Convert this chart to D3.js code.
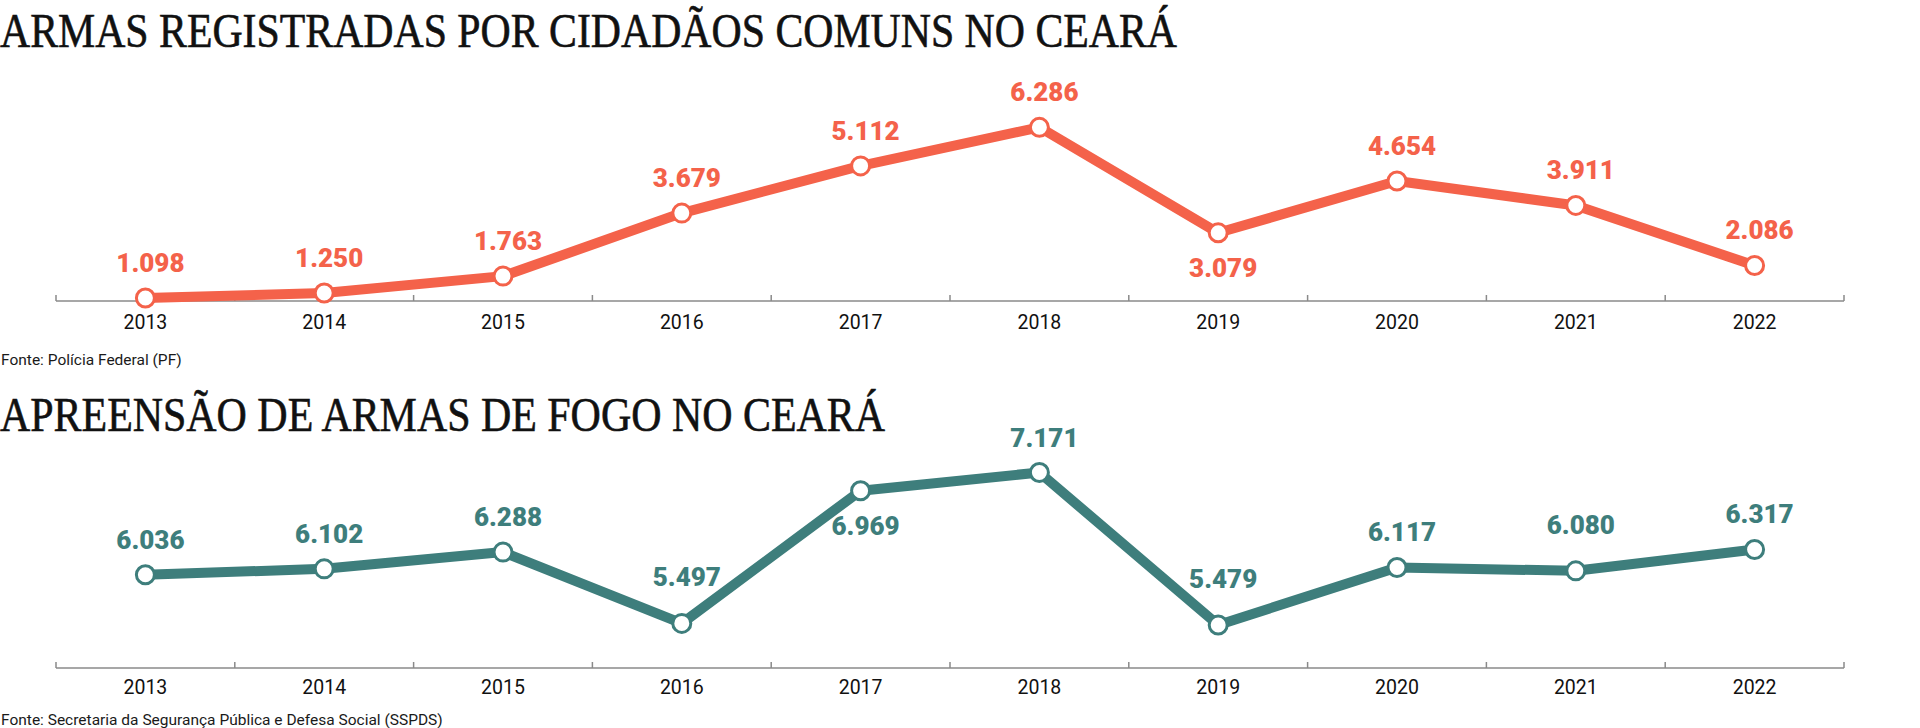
<!DOCTYPE html>
<html>
<head>
<meta charset="utf-8">
<script src="https://cdn.jsdelivr.net/npm/d3@7"></script>
<style>
  html, body { margin: 0; padding: 0; background: #ffffff; }
  svg { display: block; }
</style>
</head>
<body>
<svg id="chart" width="1920" height="728"></svg>
<script>
// ---- data ----
const years = ['2013', '2014', '2015', '2016', '2017', '2018', '2019', '2020', '2021', '2022'];
const registeredWeapons = [1098, 1250, 1763, 3679, 5112, 6286, 3079, 4654, 3911, 2086];
const seizedWeapons = [6036, 6102, 6288, 5497, 6969, 7171, 5479, 6117, 6080, 6317];
const registeredLabelSide = ['above', 'above', 'above', 'above', 'above', 'above', 'below', 'above', 'above', 'above'];
const seizedLabelSide = ['above', 'above', 'above', 'above', 'below', 'above', 'above', 'above', 'above', 'above'];
const title1 = 'ARMAS REGISTRADAS POR CIDADÃOS COMUNS NO CEARÁ';
const title2 = 'APREENSÃO DE ARMAS DE FOGO NO CEARÁ';
const source1 = 'Fonte: Polícia Federal (PF)';
const source2 = 'Fonte: Secretaria da Segurança Pública e Defesa Social (SSPDS)';

// ---- setup ----
const svg = d3.select('#chart');
const ptBR = d3.formatLocale({ decimal: ',', thousands: '.', grouping: [3], currency: ['R$', ''] });
const fmt = ptBR.format(',d');

const x = d3.scaleBand().domain(years).range([56, 1844]).paddingInner(0).paddingOuter(0);

function drawPanel(cfg) {
  const g = svg.append('g');

  // title
  g.append('text')
    .attr('x', 0).attr('y', cfg.titleY)
    .attr('font-family', '"Liberation Serif", "DejaVu Serif", serif')
    .attr('font-size', 48)
    .attr('fill', '#111')
    .attr('stroke', '#111')
    .attr('stroke-width', 0.6)
    .attr('textLength', cfg.titleWidth)
    .attr('lengthAdjust', 'spacingAndGlyphs')
    .text(cfg.title);

  const y = d3.scaleLinear().domain(d3.extent(cfg.values)).range(cfg.yRange);

  // axis baseline + boundary ticks
  const axisG = g.append('g').attr('transform', `translate(0,${cfg.axisY})`);
  axisG.append('line')
    .attr('x1', x.range()[0]).attr('x2', x.range()[1])
    .attr('y1', 0).attr('y2', 0)
    .attr('stroke', '#8a8a8a').attr('stroke-width', 1.5);
  const bounds = years.map(d => x(d)).concat([x(years[years.length - 1]) + x.bandwidth()]);
  axisG.selectAll('line.tick').data(bounds).join('line')
    .attr('class', 'tick')
    .attr('x1', d => d).attr('x2', d => d)
    .attr('y1', 0).attr('y2', -6)
    .attr('stroke', '#8a8a8a').attr('stroke-width', 1.5);

  // year labels through d3 axis
  const labelAxis = g.append('g')
    .attr('transform', `translate(0,${cfg.axisY})`)
    .call(d3.axisBottom(x).tickSize(0).tickPadding(0));
  labelAxis.select('.domain').remove();
  labelAxis.selectAll('text')
    .attr('y', cfg.yearOffset).attr('dy', null)
    .attr('font-family', 'Roboto, "Noto Sans", sans-serif')
    .attr('font-size', 19.5)
    .attr('fill', '#111');

  const pts = cfg.values.map((v, i) => ({ year: years[i], v, side: cfg.sides[i], i }));
  const cx = d => x(d.year) + x.bandwidth() / 2;

  // line
  const line = d3.line().x(cx).y(d => y(d.v));
  g.append('path')
    .datum(pts)
    .attr('d', line)
    .attr('fill', 'none')
    .attr('stroke', cfg.color)
    .attr('stroke-width', 10)
    .attr('stroke-linejoin', 'round')
    .attr('stroke-linecap', 'round');

  // points
  g.selectAll('circle.pt').data(pts).join('circle')
    .attr('class', 'pt')
    .attr('cx', cx).attr('cy', d => y(d.v))
    .attr('r', 9)
    .attr('fill', '#ffffff')
    .attr('stroke', cfg.color)
    .attr('stroke-width', 3);

  // value labels
  const n = pts.length;
  const isLocalMin = d => d.i > 0 && d.i < n - 1 && d.v < pts[d.i - 1].v && d.v < pts[d.i + 1].v;
  g.selectAll('text.val').data(pts).join('text')
    .attr('class', 'val')
    .attr('x', d => cx(d) + 5)
    .attr('y', d => {
      const py = y(d.v);
      if (d.side === 'below') return py + 44;
      return py - (isLocalMin(d) ? 37 : 26);
    })
    .attr('text-anchor', 'middle')
    .attr('font-family', 'Roboto, "Noto Sans", sans-serif')
    .attr('font-weight', 900)
    .attr('font-size', 26)
    .attr('fill', cfg.color)
    .text(d => fmt(d.v));

  // source
  g.append('text')
    .attr('x', 1).attr('y', cfg.sourceY)
    .attr('font-family', 'Roboto, "Noto Sans", sans-serif')
    .attr('font-size', 15.5)
    .attr('fill', '#1a1a1a')
    .text(cfg.source);
}

drawPanel({
  title: title1, titleY: 47, titleWidth: 1177,
  values: registeredWeapons, sides: registeredLabelSide,
  yRange: [298, 127.3], axisY: 301, yearOffset: 28,
  color: '#F4624A', source: source1, sourceY: 365
});

drawPanel({
  title: title2, titleY: 431, titleWidth: 885,
  values: seizedWeapons, sides: seizedLabelSide,
  yRange: [625, 472.5], axisY: 668, yearOffset: 25.5,
  color: '#3E7E7C', source: source2, sourceY: 725
});
</script>
</body>
</html>
